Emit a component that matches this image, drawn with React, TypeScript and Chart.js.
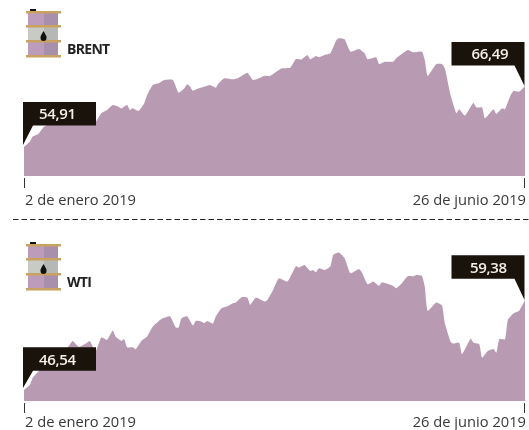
import React, { useEffect, useRef } from "react";
import { Chart, registerables } from "chart.js";

Chart.register(...registerables);

const tickLabels = ["2 de enero 2019", "26 de junio 2019"];
const tickDays = [0, 175];

const brentDays = [0,2,3,5,7,11,18,25,27,29,31,33,34,36,37,38,40,42,43,45,47,49,52,54,56,57,58,59,61,63,65,67,68,70,73,75,78,80,82,84,86,90,93,95,97,99,100,102,103,105,107,109,110,112,114,117,119,120,123,124,126,129,130,134,136,139,140,141,144,146,147,149,151,152,154,157,158,160,161,164,165,167,168,170,171,173,175];
const brentValues = [54.91,55.91,56.86,57.37,58.76,59.6,59.9,59.7,61.29,61.92,62.87,62.56,62.24,62.87,61.92,62.24,61.73,63.19,64.77,66.67,66.98,67.62,67.62,65.21,66.03,66.79,66.35,65.59,66.03,66.35,66.67,66.16,66.98,67.93,67.74,68.06,69.01,67.62,67.93,68.44,68.38,69.83,69.96,71.6,71.54,72.36,71.54,72.17,71.92,72.36,72.68,75.08,75.52,75.33,72.99,73.5,72.68,71.54,71.92,70.65,71.09,71.09,71.73,73.31,72.87,72.99,71.41,68.38,70.65,70.65,69.83,64.77,61.29,62.05,60.85,63.32,62.43,62.43,60.34,62.05,61.16,62.24,62.05,64.77,65.53,65.41,66.49];

const wtiDays = [0,2,3,5,7,11,15,17,19,20,22,23,25,27,29,31,32,34,35,36,38,39,41,43,45,48,51,53,54,55,57,59,60,62,63,64,66,67,69,71,73,74,76,78,79,81,84,85,87,89,92,95,96,98,100,101,102,103,105,107,108,110,112,114,117,118,120,122,124,125,129,130,132,134,136,137,139,140,141,144,146,147,149,150,152,153,156,157,159,160,162,164,165,166,168,169,171,173,175];
const wtiValues = [46.54,47.25,48.21,49.16,50.11,51.54,52.49,53.54,52.73,52.83,53.3,53.54,52.02,54.06,53.68,55.02,54.16,53.54,53.83,52.64,52.64,52.35,53.54,54.16,55.59,56.68,57.06,55.45,55.45,56.78,57.06,55.73,56.4,56.3,56.11,56.4,56.02,57.02,58.21,58.49,58.92,59.02,59.78,59.73,58.68,59.73,59.16,59.4,60.83,62.49,62.02,64.25,64.02,64.4,63.54,63.68,63.35,63.92,63.68,64.16,65.83,66.16,65.35,63.21,63.83,63.35,61.63,62.02,61.4,61.92,61.4,61.06,61.78,62.78,62.78,62.97,62.83,61.3,57.83,59.02,58.59,56.06,53.44,53.16,53.3,51.68,53.87,53.3,53.11,51.16,52.11,52.4,51.87,53.78,53.78,56.54,57.49,57.87,59.38];

const AREA = "#b89bb3";
const DARK = "#1a130c";
const TEXT = "#3a3836";
const FONT = '"Open Sans", sans-serif';

function drawBarrel(ctx: CanvasRenderingContext2D, x: number, y: number) {
  const band = "#c9a160";
  ctx.fillStyle = "#111";
  ctx.fillRect(x + 4, y - 2, 6, 3);
  const segs: [number, number, string, string][] = [
    [1, 14, "#bd9cbb", "#a88fab"],
    [15, 14, "#c8cac6", "#b6b8b5"],
    [29, 15, "#bd9cbb", "#a88fab"],
  ];
  for (const [dy, h, a, b] of segs) {
    ctx.fillStyle = a;
    ctx.fillRect(x + 2, y + dy, 16, h);
    ctx.fillStyle = b;
    ctx.fillRect(x + 18, y + dy, 14, h);
  }
  ctx.fillStyle = band;
  for (const dy of [0, 14, 29, 44]) ctx.fillRect(x, y + dy, 35, 2.5);
  ctx.fillStyle = "#111";
  ctx.beginPath();
  ctx.moveTo(x + 17.5, y + 20);
  ctx.bezierCurveTo(x + 19, y + 23, x + 21, y + 25, x + 20.5, y + 27);
  ctx.arc(x + 17.5, y + 27, 3, 0, Math.PI);
  ctx.bezierCurveTo(x + 14, y + 25, x + 16, y + 23, x + 17.5, y + 20);
  ctx.fill();
}

function Panel(props: {
  name: string; days: number[]; values: number[]; yMin: number; yMax: number;
  axisHeight: number; tickTop: number; tickPad: number;
  barrelY: number; nameY: number; leftBox: number; rightBox: number; rightText: number; dashed: boolean;
}) {
  const ref = useRef<HTMLCanvasElement>(null);
  useEffect(() => {
    const p = props;
    const overlay = {
      id: "overlay",
      afterDraw(chart: any) {
        const ctx = chart.ctx as CanvasRenderingContext2D;
        const sx = chart.scales.x;
        const sy = chart.scales.y;
        ctx.save();
        // axis ticks
        ctx.strokeStyle = "#333";
        ctx.lineWidth = 1;
        tickDays.forEach((d) => {
          const px = Math.round(sx.getPixelForValue(d)) + (d === 0 ? 0.5 : -0.5);
          ctx.beginPath();
          ctx.moveTo(px, p.tickTop);
          ctx.lineTo(px, p.tickTop + 10);
          ctx.stroke();
        });
        // separator
        if (p.dashed) {
          ctx.strokeStyle = "#222";
          ctx.setLineDash([5.5, 3]);
          ctx.beginPath();
          ctx.moveTo(13, 4.5);
          ctx.lineTo(529, 4.5);
          ctx.stroke();
          ctx.setLineDash([]);
        }
        // barrel and name
        drawBarrel(ctx, 26, p.barrelY);
        ctx.fillStyle = "#222";
        ctx.font = `700 14px ${FONT}`;
        ctx.textAlign = "left";
        ctx.textBaseline = "alphabetic";
        (ctx as any).letterSpacing = "-0.7px";
        ctx.fillText(p.name, 67, p.nameY);
        (ctx as any).letterSpacing = "0px";
        // first value callout
        const first = p.values[0];
        const last = p.values[p.values.length - 1];
        const fx = sx.getPixelForValue(p.days[0]) - 1;
        const fy = sy.getPixelForValue(first) - 2;
        ctx.fillStyle = DARK;
        ctx.beginPath();
        ctx.moveTo(23, p.leftBox);
        ctx.lineTo(96, p.leftBox);
        ctx.lineTo(96, p.leftBox + 23.5);
        ctx.lineTo(33, p.leftBox + 23.5);
        ctx.lineTo(fx, fy);
        ctx.closePath();
        ctx.fill();
        // last value callout
        const lx = sx.getPixelForValue(p.days[p.days.length - 1]) - 0.5;
        const ly = sy.getPixelForValue(last);
        ctx.beginPath();
        ctx.moveTo(451.5, p.rightBox);
        ctx.lineTo(524.5, p.rightBox);
        ctx.lineTo(lx, ly);
        ctx.lineTo(514.5, p.rightBox + 23.5);
        ctx.lineTo(451.5, p.rightBox + 23.5);
        ctx.closePath();
        ctx.fill();
        ctx.fillStyle = "#f4efe6";
        ctx.font = `600 15px ${FONT}`;
        ctx.textBaseline = "alphabetic";
        ctx.textAlign = "left";
        (ctx as any).letterSpacing = "-0.3px";
        ctx.fillText(first.toFixed(2).replace(".", ","), 39, p.leftBox + 17.3);
        ctx.fillText(last.toFixed(2).replace(".", ","), p.rightText, p.rightBox + 17.3);
        ctx.restore();
      },
    };
    const chart = new Chart(ref.current as HTMLCanvasElement, {
      type: "line",
      data: {
        datasets: [{
          data: p.days.map((d, i) => ({ x: d, y: p.values[i] })),
          backgroundColor: AREA,
          borderWidth: 0,
          pointRadius: 0,
          fill: "start",
          tension: 0.15,
        }],
      },
      options: {
        animation: false,
        responsive: false,
        layout: { padding: { left: 24, right: 4, top: 0, bottom: 0 } },
        plugins: { legend: { display: false }, tooltip: { enabled: false } },
        scales: {
          x: {
            type: "linear",
            min: tickDays[0],
            max: tickDays[1],
            grid: { display: false, drawTicks: false },
            border: { display: false },
            afterBuildTicks: (s: any) => { s.ticks = tickDays.map((value) => ({ value })); },
            afterFit: (s: any) => { s.height = p.axisHeight; s.paddingLeft = 0; s.paddingRight = 0; },
            ticks: {
              autoSkip: false, maxRotation: 0, align: "inner", padding: p.tickPad, labelOffset: 1,
              color: TEXT, font: { family: FONT, size: 14.7 },
              callback: (v: any) => tickLabels[tickDays.indexOf(Number(v))],
            },
          },
          y: { display: false, min: p.yMin, max: p.yMax },
        },
      } as any,
      plugins: [overlay],
    });
    return () => chart.destroy();
  }, []);
  return <canvas ref={ref} width={529} height={215} style={{ display: "block" }} />;
}

export default function App() {
  return (
    <div style={{ position: "absolute", left: 0, top: 0, width: 529, height: 430, background: "#fff" }}>
      <Panel name="BRENT" days={brentDays} values={brentValues} yMin={49.4} yMax={82.8}
        axisHeight={39} tickTop={178} tickPad={16} barrelY={11} nameY={54}
        leftBox={102} rightBox={42} rightText={471.5} dashed={false} />
      <Panel name="WTI" days={wtiDays} values={wtiValues} yMin={44.92} yMax={71.53}
        axisHeight={28.7} tickTop={188} tickPad={12.5} barrelY={29} nameY={71.5}
        leftBox={132.3} rightBox={40.3} rightText={470} dashed={true} />
    </div>
  );
}
